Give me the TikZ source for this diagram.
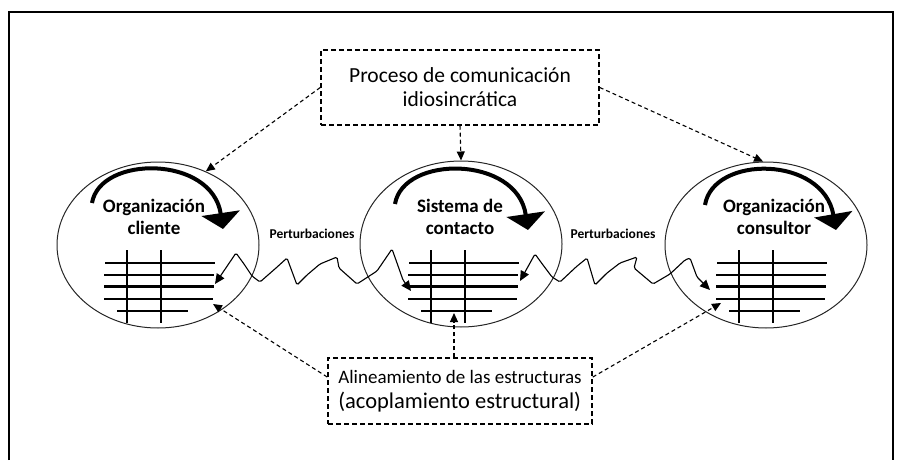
\documentclass[tikz,border=0pt]{standalone}
\usepackage{fontspec}
\setmainfont{Carlito}
\usetikzlibrary{arrows.meta,shapes.geometric}
\newcommand\mytablegrid[1]{%
  \begin{scope}[shift={(#1,0)}]
    \draw[gline] (1,263) -- (111,263);
    \draw[gline] (0,274.5) -- (110,274.5);
    \draw[gline,line width=2.4pt] (0,286.5) -- (110,286.5);
    \draw[gline] (0,298.5) -- (109,298.5);
    \draw[gline] (13,311) -- (84,311);
    \draw[gline] (23,250) -- (23,323);
    \draw[gline] (57,250) -- (57,323);
  \end{scope}}
\begin{document}
\begin{tikzpicture}[x=1pt,y=-1pt,
  org/.style={ellipse,draw=black!85,line width=1pt,minimum width=202pt,minimum height=166pt,inner sep=0pt},
  orgtxt/.style={font=\fontsize{19}{22}\selectfont\bfseries,align=center,inner sep=0pt},
  pert/.style={font=\fontsize{13.5}{16}\selectfont\bfseries,inner sep=0pt},
  dbox/.style={draw,line width=1.5pt,dash pattern=on 5pt off 3pt,inner sep=0pt},
  dline/.style={line width=1.1pt,dash pattern=on 4pt off 3pt,-{Triangle[length=9pt,width=8pt]}},
  bigarrow/.style={line width=4pt,-{Triangle[length=16pt,width=38pt]}},
  zig/.style={line width=1.1pt,rounded corners=1.5pt,{Triangle[length=10pt,width=9pt]}-{Triangle[length=10pt,width=9pt]}},
  gline/.style={line width=2pt},
]
\useasboundingbox (0,0) rectangle (909,460);
% frame
\draw[line width=2pt] (9,460) -- (9,12) -- (893,12) -- (893,460);

% ellipses
\node[org] (cli) at (158,245) {};
\node[org] (sis) at (461,244) {};
\node[org] (con) at (766,245) {};

% grids
\mytablegrid{104}
\mytablegrid{408}
\mytablegrid{716}

% big curved arrows
\draw[bigarrow] (92,203) .. controls (100,155) and (212,155) .. (223,229);
\draw[bigarrow] (395,204) .. controls (403,155) and (517,155) .. (528,230);
\draw[bigarrow] (705,205) .. controls (713,155) and (823,155) .. (836,230);

% labels in ellipses
\node[orgtxt] (clitxt) at (154,217) {Organización\\cliente};
\node[orgtxt] (sistxt) at (460,217) {Sistema de\\contacto};
\node[orgtxt] (contxt) at (774,217) {Organización\\consultor};

\node[pert] (p1) at (312,234) {Perturbaciones};
\node[pert] (p2) at (613,234) {Perturbaciones};

% boxes
\node[dbox,minimum width=278pt,minimum height=75pt,font=\fontsize{21.5}{24}\selectfont,align=center] (proc) at (460,87.5) {Proceso de comunicación\\idiosincrática};
\node[dbox,minimum width=264pt,minimum height=66pt,align=left,font=\fontsize{19}{25}\selectfont] (alin) at (460,391) {Alineamiento de las estructuras\\{\fontsize{22.5}{25}\selectfont (acoplamiento estructural)}};

% zigzag perturbations
\coordinate (zA) at (215,284);
\coordinate (zB) at (411,291);
\coordinate (zC) at (520,281);
\coordinate (zD) at (710,290);
\draw[zig] (zA) -- (236,253) -- (244,264) -- (252,276) -- (260,282) -- (276,268) -- (287,258) -- (297,285) -- (307,275) -- (320,264) -- (337,257) -- (339,268) -- (357,284) -- (377,271) -- (392,249) -- (397,263) -- (403,280) -- (zB);
\draw[zig] (zC) -- (535,254) -- (543,265) -- (552,277) -- (560,282) -- (576,267) -- (587,258) -- (595,285) -- (607,273) -- (620,263) -- (637,257) -- (634,268) -- (653,284) -- (670,274) -- (685,260) -- (690,258) -- (697,277) -- (zD);

% dashed connectors
\coordinate (tL) at (213,304);
\coordinate (tC) at (454,313);
\coordinate (tR) at (721,303);
\draw[dline] (proc.west) -- (cli.57);
\draw[dline] (proc.south) -- (sis.north);
\draw[dline] (proc.east) -- (con.92);
\draw[dline] (alin.174) -- (tL);
\draw[dline] (alin.north -| tC) -- (tC);
\draw[dline] (alin.6) -- (tR);
\end{tikzpicture}
\end{document}
